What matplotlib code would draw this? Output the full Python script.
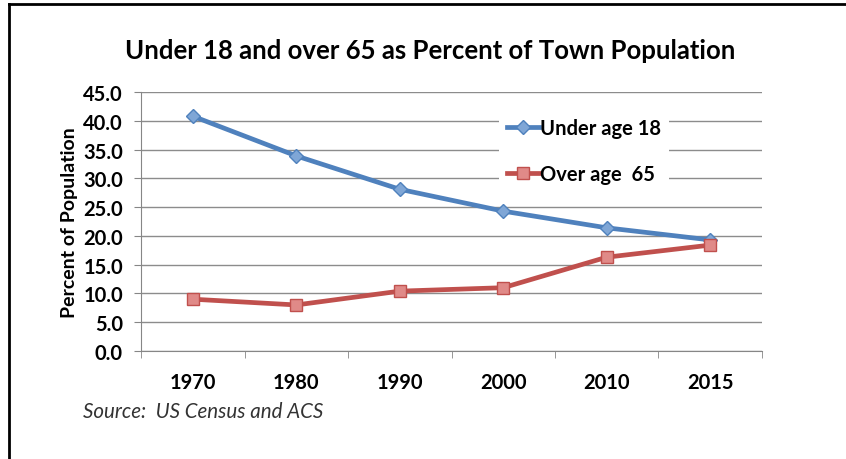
import matplotlib
matplotlib.use("Agg")
import matplotlib.pyplot as plt
from matplotlib.lines import Line2D

years = ["1970", "1980", "1990", "2000", "2010", "2015"]
under_18 = [40.8, 33.9, 28.1, 24.3, 21.4, 19.3]
over_65 = [9.0, 8.0, 10.4, 11.0, 16.3, 18.4]

plt.rcParams["font.family"] = ["Lato", "DejaVu Sans"]

fig = plt.figure(figsize=(8.46, 4.6), dpi=100)
ax = fig.add_axes([0.1667, 0.2348, 0.734, 0.563])

x = list(range(len(years)))
ax.plot(x, under_18, color="#4F81BD", lw=3.4, marker="D", ms=7,
        mfc="#7FA6D6", mec="#4F81BD", mew=1, label="Under age 18", zorder=3)
ax.plot(x, over_65, color="#C0504D", lw=3.4, marker="s", ms=8,
        mfc="#E08A88", mec="#C0504D", mew=1, label="Over age  65", zorder=3)

ax.set_xlim(-0.5, len(years) - 0.5)
ax.set_ylim(0, 45)
ax.set_yticks([i * 5 for i in range(10)])
ax.set_yticklabels(["%.1f" % (i * 5) for i in range(10)])
ax.set_xticks(x)
ax.set_xticklabels(years)
ax.set_xticks([i - 0.5 for i in range(len(years) + 1)], minor=True)
ax.tick_params(axis="x", which="major", length=0, pad=15)
ax.tick_params(axis="x", which="minor", length=5, color="#868686")
ax.tick_params(axis="y", length=5, color="#868686", pad=8)
for lab in ax.get_xticklabels() + ax.get_yticklabels():
    lab.set_fontweight("bold")
    lab.set_fontsize(14.5)

ax.grid(axis="y", color="#8C8C8C", lw=1)
ax.set_axisbelow(True)
for s in ("top", "right"):
    ax.spines[s].set_visible(False)
ax.spines["left"].set_color("#868686")
ax.spines["bottom"].set_color("#868686")

ax.set_ylabel("Percent of Population", fontsize=14, fontweight="bold",
              labelpad=4)

leg = ax.legend(loc="upper left", bbox_to_anchor=(0.56, 0.97), frameon=True,
                fontsize=14.5, handlelength=1.6, handletextpad=0.05,
                labelspacing=1.3, borderpad=0.4)
leg.get_frame().set_facecolor("white")
leg.get_frame().set_edgecolor("none")
leg.get_frame().set_alpha(1)
for t in leg.get_texts():
    t.set_fontweight("bold")

fig.text(0.508, 0.89, "Under 18 and over 65 as Percent of Town Population",
         ha="center", va="center", fontsize=18.5, fontweight="bold")
fig.text(0.098, 0.105, "Source:  US Census and ACS", ha="left", va="center",
         fontsize=14.8, style="italic", color="#333333")

# frame edges of the original cropped screenshot
fig.add_artist(Line2D([0.011, 0.011], [0, 0.99], color="black", lw=2))
fig.add_artist(Line2D([0.011, 1.0], [0.99, 0.99], color="black", lw=2))

fig.savefig("out.png", dpi=100)
